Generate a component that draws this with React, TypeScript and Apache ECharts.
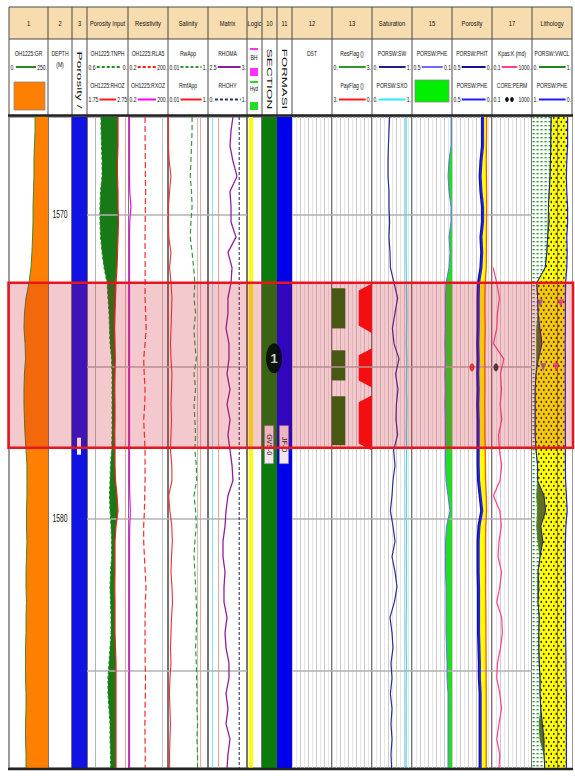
import React, { useEffect, useRef } from "react";
import * as echarts from "echarts";

/* ---------- depth sampling (m) ---------- */
const DEPTH = [
  1566.8, 1567.25, 1567.75, 1568.25, 1568.75, 1569.25, 1569.75, 1570.25, 1570.75, 1571.25,
  1571.75, 1572.25, 1572.75, 1573.25, 1573.75, 1574.25, 1574.75, 1575.25, 1575.75, 1576.25,
  1576.75, 1577.25, 1577.75, 1578.25, 1578.75, 1579.25, 1579.75, 1580.25, 1580.75, 1581.25,
  1581.75, 1582.25, 1582.75, 1583.25, 1583.75, 1584.25, 1584.75, 1585.25, 1585.75, 1586.25,
  1586.75, 1587.25, 1587.75, 1588.2,
];
const DEPTH_LABELS = [1570, 1580];
const DEPTH_GRID = [1570, 1575, 1580, 1585];

/* ---------- logs ---------- */
const GR = [
  167, 167, 163, 160, 160, 157, 154, 154, 151, 147,
  141, 128, 109, 99, 96, 103, 106, 99, 96, 96,
  99, 103, 109, 115, 115, 115, 112, 112, 115, 112,
  109, 109, 112, 109, 109, 106, 106, 106, 109, 109,
  106, 106, 109, 109,
];
const TNPH = [
  0.395, 0.395, 0.388, 0.38, 0.38, 0.402, 0.41, 0.41, 0.402, 0.38,
  0.351, 0.307, 0.293, 0.278, 0.271, 0.263, 0.241, 0.234, 0.234, 0.234,
  0.234, 0.234, 0.241, 0.256, 0.263, 0.271, 0.263, 0.249, 0.241, 0.241,
  0.256, 0.263, 0.256, 0.249, 0.249, 0.263, 0.278, 0.293, 0.293, 0.278,
  0.263, 0.263, 0.256, 0.256,
];
const RHOZ = [
  2.506, 2.506, 2.506, 2.494, 2.494, 2.506, 2.506, 2.518, 2.506, 2.494,
  2.482, 2.457, 2.445, 2.433, 2.425, 2.433, 2.44, 2.433, 2.428, 2.433,
  2.433, 2.428, 2.433, 2.433, 2.445, 2.482, 2.506, 2.457, 2.433, 2.433,
  2.433, 2.428, 2.433, 2.433, 2.433, 2.445, 2.457, 2.457, 2.457, 2.457,
  2.457, 2.457, 2.457, 2.457,
];
const RLA5 = [
  3.8, 3.8, 3.9, 4.0, 4.0, 4.2, 4.0, 3.9, 3.8, 3.8,
  3.9, 3.8, 3.8, 4.2, 4.6, 3.8, 3.0, 3.3, 3.8, 3.6,
  3.0, 3.4, 3.8, 3.8, 3.8, 3.6, 3.4, 3.0, 3.0, 3.4,
  3.9, 4.5, 4.0, 3.8, 3.8, 3.8, 3.9, 4.1, 4.0, 3.8,
  3.7, 3.8, 3.9, 3.9,
];
const RXOZ = [
  0.26, 0.26, 0.26, 0.26, 0.26, 0.27, 0.33, 0.27, 0.26, 0.26,
  0.26, 0.26, 0.26, 0.26, 0.26, 0.26, 0.26, 0.26, 0.26, 0.26,
  0.26, 0.26, 0.26, 0.26, 0.26, 0.27, 0.3, 0.27, 0.26, 0.26,
  0.26, 0.26, 0.26, 0.26, 0.26, 0.26, 0.26, 0.26, 0.26, 0.26,
  0.26, 0.26, 0.26, 0.26,
];
const RW_APP = [
  0.16, 0.16, 0.15, 0.14, 0.13, 0.15, 0.16, 0.14, 0.13, 0.16,
  0.19, 0.22, 0.2, 0.24, 0.2, 0.22, 0.26, 0.2, 0.24, 0.2,
  0.22, 0.24, 0.22, 0.26, 0.27, 0.2, 0.24, 0.26, 0.22, 0.2,
  0.22, 0.24, 0.26, 0.27, 0.26, 0.24, 0.26, 0.27, 0.28, 0.28,
  0.3, 0.28, 0.3, 0.3,
];
const RMF_APP = [
  0.0105, 0.0105, 0.0105, 0.0115, 0.014, 0.012, 0.0105, 0.0105, 0.011, 0.014,
  0.012, 0.0141, 0.0158, 0.015, 0.0141, 0.0133, 0.0141, 0.0158, 0.015, 0.0141,
  0.015, 0.0141, 0.0133, 0.0155, 0.0158, 0.0108, 0.0125, 0.0155, 0.0165, 0.015,
  0.0141, 0.0158, 0.0168, 0.015, 0.0141, 0.0133, 0.0141, 0.0125, 0.0118, 0.0125,
  0.0133, 0.0125, 0.012, 0.012,
];
const RHOMA = [
  2.82, 2.795, 2.782, 2.82, 2.872, 2.782, 2.795, 2.795, 2.859, 2.756,
  2.808, 2.795, 2.756, 2.756, 2.731, 2.769, 2.769, 2.744, 2.782, 2.744,
  2.782, 2.756, 2.782, 2.808, 2.82, 2.756, 2.731, 2.718, 2.692, 2.692,
  2.718, 2.705, 2.705, 2.744, 2.718, 2.731, 2.769, 2.769, 2.731, 2.756,
  2.731, 2.782, 2.756, 2.744,
];
const RHOHY_DEPTH = [1566.8, 1588.2];
const RHOHY = [0.8, 0.8];
const SW = [
  0.44, 0.425, 0.41, 0.4, 0.4, 0.425, 0.425, 0.44, 0.425, 0.45,
  0.46, 0.55, 0.64, 0.575, 0.51, 0.55, 0.675, 0.59, 0.65, 0.61,
  0.6, 0.64, 0.54, 0.575, 0.525, 0.5, 0.46, 0.525, 0.575, 0.5,
  0.575, 0.625, 0.56, 0.45, 0.5, 0.525, 0.475, 0.5, 0.46, 0.5,
  0.475, 0.5, 0.475, 0.49,
];
const SXO = [
  0.85, 0.85, 0.85, 0.85, 0.85, 0.85, 0.85, 0.85, 0.85, 0.85,
  0.855, 0.86, 0.865, 0.87, 0.865, 0.86, 0.87, 0.865, 0.86, 0.87,
  0.865, 0.86, 0.865, 0.86, 0.855, 0.86, 0.855, 0.86, 0.86, 0.855,
  0.86, 0.855, 0.86, 0.855, 0.85, 0.855, 0.86, 0.855, 0.85, 0.855,
  0.85, 0.855, 0.85, 0.85,
];
const PHE = [
  0.11, 0.11, 0.11, 0.13, 0.14, 0.13, 0.11, 0.11, 0.13, 0.12,
  0.13, 0.16, 0.165, 0.165, 0.165, 0.17, 0.165, 0.17, 0.165, 0.17,
  0.165, 0.165, 0.165, 0.165, 0.16, 0.14, 0.12, 0.155, 0.165, 0.165,
  0.165, 0.16, 0.16, 0.16, 0.16, 0.155, 0.15, 0.15, 0.14, 0.14,
  0.14, 0.14, 0.14, 0.14,
];
const PHIT = [
  0.125, 0.125, 0.125, 0.145, 0.155, 0.145, 0.125, 0.125, 0.145, 0.135,
  0.145, 0.175, 0.18, 0.18, 0.18, 0.185, 0.18, 0.185, 0.18, 0.185,
  0.18, 0.18, 0.18, 0.18, 0.175, 0.155, 0.135, 0.17, 0.18, 0.18,
  0.18, 0.175, 0.175, 0.175, 0.175, 0.17, 0.165, 0.165, 0.155, 0.155,
  0.155, 0.155, 0.155, 0.155,
];
const BVW = [
  0.068, 0.068, 0.07, 0.072, 0.07, 0.068, 0.066, 0.068, 0.07, 0.07,
  0.072, 0.085, 0.088, 0.088, 0.085, 0.088, 0.09, 0.088, 0.088, 0.09,
  0.088, 0.088, 0.085, 0.082, 0.08, 0.072, 0.068, 0.078, 0.08, 0.08,
  0.078, 0.08, 0.078, 0.076, 0.076, 0.075, 0.074, 0.074, 0.072, 0.072,
  0.072, 0.072, 0.072, 0.072,
];
const KPAS = [
  null, null, null, null, null, null, null, null, null, null,
  0.13, 0.3, 0.55, 0.35, 0.3, 0.14, 1.5, 0.7, 0.9, 0.65,
  0.95, 0.45, 0.55, 0.93, 0.63, 0.14, 0.6, 0.85, 0.5, 0.4,
  0.9, 0.6, 0.3, 0.93, 1.1, 0.7, 0.35, 0.3, 0.6, 0.9,
  0.5, 0.3, 0.6, 0.5,
];
const VWCL = [
  0.48, 0.47, 0.47, 0.46, 0.45, 0.43, 0.41, 0.4, 0.39, 0.37,
  0.33, 0.12, 0.14, 0.15, 0.12, 0.12, 0.12, 0.1, 0.08, 0.08,
  0.08, 0.08, 0.1, 0.14, 0.14, 0.12, 0.14, 0.12, 0.15, 0.2,
  0.15, 0.14, 0.15, 0.18, 0.17, 0.17, 0.18, 0.2, 0.2, 0.22,
  0.18, 0.2, 0.3, 0.32,
];
const VSILT = [
  0, 0, 0, 0, 0, 0, 0, 0.03, 0, 0,
  0, 0, 0, 0, 0.08, 0.13, 0.04, 0, 0, 0,
  0, 0, 0, 0, 0, 0.18, 0.2, 0.1, 0.12, 0,
  0, 0.03, 0, 0, 0, 0, 0, 0, 0, 0,
  0.08, 0.1, 0, 0,
];

/* ---------- flags, zones, core ---------- */
const RES_FLAG_TOP = [1572.43, 1574.47, 1575.98];
const RES_FLAG_BASE = [1573.75, 1575.46, 1577.59];
const RES_FLAG_VALUE = [1, 1, 1];
const PAY_FLAG_DEPTH = [1566.8, 1572.27, 1572.5, 1573.65, 1573.91, 1574.4, 1574.63, 1575.46, 1575.69, 1575.95, 1576.18, 1577.53, 1577.76, 1588.2];
const PAY_FLAG = [0, 0, 1, 1, 0, 0, 1, 1, 0, 0, 1, 1, 0, 0];
const LOGIC_FLAG_DEPTH = [1566.8, 1588.2];
const ZONE_TOP = 1572.25;
const ZONE_BASE = 1577.67;
const ZONE_NAME = "1";
const ZONE_LABEL_DEPTH = 1574.73;
const SECTION_NAME = "GVS-0";
const FORMATION_NAME = "JF-O";
const CORE_DEPTH = [1575.03];
const CORE_PHI = [0.25];
const CORE_PERM = [0.25];
const SAMPLE_DEPTH = [1572.93, 1572.93, 1575.03, 1575.03];
const SAMPLE_VALUE = [0.2, 0.72, 0.28, 0.6];
const SAMPLE_KIND = ["a", "b", "a", "b"];

/* ---------- layout ---------- */
const EDGES = [9, 48, 72, 87, 128, 168, 208, 247, 262, 277, 292, 332, 372, 412, 452, 492, 532, 572];
const HEAD_TOP = 7;
const TITLE_BOTTOM = 39;
const HEAD_BOTTOM = 115;
const PLOT_TOP = 117;
const PLOT_BOTTOM = 768;
const Y_MIN = DEPTH[0];
const Y_MAX = DEPTH[DEPTH.length - 1];
const FONT = '"Liberation Sans", Arial, Helvetica, sans-serif';
const TRACK_TITLES = ["1", "2", "3", "Porosity Input", "Resistivity", "Salinity", "Matrix", "Logic", "10", "11", "12", "13", "Saturation", "15", "Porosity", "17", "Lithology"];
const GRID_DIVS = [0, 0, 0, 0, 0, 0, 0, 0, 0, 0, 10, 10, 10, 10, 10, 10, 0];

function makePattern(w: number, h: number, draw: (c: CanvasRenderingContext2D) => void) {
  const cv = document.createElement("canvas");
  cv.width = w;
  cv.height = h;
  draw(cv.getContext("2d") as CanvasRenderingContext2D);
  return { image: cv, repeat: "repeat", imageWidth: w, imageHeight: h };
}

function txt(x: number, y: number, text: string, size: number, o: any = {}) {
  return {
    type: "text",
    x,
    y,
    scaleX: o.sx ?? 0.72,
    rotation: o.rot ?? 0,
    z: o.z ?? 10,
    silent: true,
    style: {
      text,
      fill: o.color ?? "#111",
      font: `${o.weight ?? "normal"} ${size}px ${FONT}`,
      textAlign: o.align ?? "center",
      textVerticalAlign: "middle",
    },
  };
}

function tw(s: string, size: number, sx: number) {
  let w = 0;
  for (const ch of s) w += ch === "." || ch === ":" ? 0.278 : /[0-9]/.test(ch) ? 0.556 : 0.6;
  return w * size * sx;
}

function buildOption() {
  const sandFill = makePattern(5, 8, (c) => {
    c.fillStyle = "#ffff00";
    c.fillRect(0, 0, 5, 8);
    c.fillStyle = "#262626";
    c.beginPath();
    c.ellipse(1.3, 2, 0.85, 1.15, 0, 0, Math.PI * 2);
    c.fill();
    c.beginPath();
    c.ellipse(3.8, 6, 0.85, 1.15, 0, 0, Math.PI * 2);
    c.fill();
  });
  const shaleFill = makePattern(4, 4, (c) => {
    c.fillStyle = "#ffffff";
    c.fillRect(0, 0, 4, 4);
    c.fillStyle = "#3c9a3c";
    c.fillRect(0.5, 1, 2.2, 1.4);
  });

  const grid = EDGES.slice(0, -1).map((x, i) => ({
    left: x,
    top: PLOT_TOP,
    width: EDGES[i + 1] - x,
    height: PLOT_BOTTOM - PLOT_TOP,
    show: true,
    borderColor: "#5a5a5a",
    borderWidth: 1.2,
    backgroundColor: "transparent",
  }));
  const yAxis = grid.map((_, i) => ({ type: "value", gridIndex: i, min: Y_MIN, max: Y_MAX, inverse: true, show: false }));
  const xAxis: any[] = [];
  const ax = (g: number, o: any) => {
    xAxis.push({ type: "value", gridIndex: g, show: false, ...o });
    return xAxis.length - 1;
  };
  const frame = GRID_DIVS.map((n, i) =>
    n
      ? ax(i, {
          show: true,
          min: 0,
          max: n,
          interval: 1,
          axisLine: { show: false },
          axisTick: { show: false },
          axisLabel: { show: false },
          splitLine: { show: true, lineStyle: { color: ["#cdcdcd", "#e6e6e6"], width: 1 } },
        })
      : ax(i, { min: 0, max: 1 })
  );
  const aGR = ax(0, { min: 0, max: 250 });
  const aTNPH = ax(3, { min: 0, max: 0.6, inverse: true });
  const aRHOZ = ax(3, { min: 1.75, max: 2.75 });
  const aRES = ax(4, { type: "log", logBase: 10, min: 0.2, max: 200 });
  const aSAL = ax(5, { type: "log", logBase: 10, min: 0.01, max: 1 });
  const aRHOMA = ax(6, { min: 2.5, max: 3 });
  const aRHOHY = ax(6, { min: 0, max: 1 });
  const aRESF = ax(11, { min: 0, max: 3 });
  const aPAYF = ax(11, { min: 0, max: 3, inverse: true });
  const aSAT = ax(12, { min: 0, max: 1 });
  const aPHE15 = ax(13, { min: 0.1, max: 0.5, inverse: true });
  const aPOR = ax(14, { min: 0, max: 0.5, inverse: true });
  const aK = ax(15, { type: "log", logBase: 10, min: 0.1, max: 1000 });
  const aVW = ax(16, { min: 0, max: 1 });
  const aPHEL = ax(16, { min: 0, max: 1, inverse: true });

  const curve = (xi: number, yi: number, vals: any[], depths: number[], color: string, width: number, type: any = "solid", z = 5) => ({
    type: "line",
    xAxisIndex: xi,
    yAxisIndex: yi,
    symbol: "none",
    silent: true,
    z,
    clip: true,
    lineStyle: { color, width, type },
    data: depths.map((d, k) => [vals[k], d]).filter((p) => p[0] != null),
  });

  const val = (a: any, k: number) => (typeof a === "number" ? a : a[k]);
  const band = (xi: number, yi: number, left: any, right: any, depths: number[], fill: any, z = 2) => ({
    type: "custom",
    coordinateSystem: "cartesian2d",
    xAxisIndex: xi,
    yAxisIndex: yi,
    silent: true,
    z,
    clip: true,
    data: [[val(left, 0), depths[0]]],
    renderItem: (_p: any, api: any) => {
      const pts: number[][] = [];
      for (let k = 0; k < depths.length; k++) pts.push(api.coord([val(left, k), depths[k]]));
      for (let k = depths.length - 1; k >= 0; k--) pts.push(api.coord([val(right, k), depths[k]]));
      return { type: "polygon", shape: { points: pts }, style: { fill } };
    },
  });

  const hgrid = (i: number) => ({
    type: "line",
    xAxisIndex: frame[i],
    yAxisIndex: i,
    data: [],
    z: 4,
    silent: true,
    markLine: {
      silent: true,
      animation: false,
      symbol: ["none", "none"],
      label: { show: false },
      lineStyle: { color: "#b2b2b2", width: 1.5, type: "solid" },
      data: DEPTH_GRID.map((d) => ({ yAxis: d })),
    },
  });
  const vlines = (i: number, items: [number, string][]) => ({
    type: "line",
    xAxisIndex: frame[i],
    yAxisIndex: i,
    data: [],
    z: 4,
    silent: true,
    markLine: {
      silent: true,
      animation: false,
      symbol: ["none", "none"],
      label: { show: false },
      data: items.map(([v, c]) => ({ xAxis: v, lineStyle: { color: c, width: 1, type: "solid" } })),
    },
  });

  const sandLeft = VWCL.map((v, k) => v + VSILT[k]);
  const zoneSpan = [Y_MIN, Y_MAX];

  const series: any[] = [
    // 1 : gamma ray
    band(aGR, 0, GR, 250, DEPTH, "#ff8000"),
    curve(aGR, 0, GR, DEPTH, "#3d8a2a", 1),
    // 3 : porosity zone column
    band(frame[2], 2, 0, 1, zoneSpan, "#1212e2"),
    // porosity input
    band(aTNPH, 3, TNPH, 0, DEPTH, "#177a17"),
    band(aRHOZ, 3, RHOZ, 2.75, DEPTH, "#ffffff", 3),
    vlines(3, [[0.2, "#b4b4b4"], [0.93, "#f3a0a0"]]),
    hgrid(3),
    curve(aTNPH, 3, TNPH, DEPTH, "#1d8a1d", 1, [3, 2]),
    curve(aRHOZ, 3, RHOZ, DEPTH, "#ff1a1a", 1.2),
    // resistivity
    vlines(4, [[0.85, "#c4c4c4"]]),
    hgrid(4),
    curve(aRES, 4, RLA5, DEPTH, "#ff2a2a", 1.2, [6, 3]),
    curve(aRES, 4, RXOZ, DEPTH, "#ff00ff", 1.2),
    // salinity
    vlines(5, [[0.72, "#c4c4c4"], [0.8, "#f3a0a0"]]),
    hgrid(5),
    curve(aSAL, 5, RW_APP, DEPTH, "#3a953a", 1.2, [5, 3]),
    curve(aSAL, 5, RMF_APP, DEPTH, "#ff2a2a", 1.1),
    // matrix
    vlines(6, [[0.1, "#7fe6f0"], [0.26, "#f3a0a0"]]),
    hgrid(6),
    curve(aRHOMA, 6, RHOMA, DEPTH, "#8e1f9e", 1.3),
    curve(aRHOHY, 6, RHOHY, RHOHY_DEPTH, "#24306a", 1.1, [3, 2]),
    // logic
    band(frame[7], 7, 0.13, 0.4, LOGIC_FLAG_DEPTH, "#ffff00"),
    // section / formation
    band(frame[8], 8, 0, 1, zoneSpan, "#0b7b0b"),
    band(frame[9], 9, 0, 1, zoneSpan, "#0000ea"),
    {
      type: "scatter",
      xAxisIndex: frame[8],
      yAxisIndex: 8,
      clip: false,
      silent: true,
      z: 120,
      symbol: "circle",
      symbolSize: [16, 30],
      itemStyle: { color: "#000" },
      label: { show: true, position: "inside", formatter: ZONE_NAME, color: "#fff", fontSize: 13, fontWeight: "bold", fontFamily: FONT },
      data: [[0.8, ZONE_LABEL_DEPTH]],
    },
    // DST
    hgrid(10),
    // flags
    hgrid(11),
    {
      type: "custom",
      coordinateSystem: "cartesian2d",
      xAxisIndex: aRESF,
      yAxisIndex: 11,
      silent: true,
      z: 3,
      data: RES_FLAG_TOP.map((t, k) => [0, t, RES_FLAG_VALUE[k], RES_FLAG_BASE[k]]),
      renderItem: (_p: any, api: any) => {
        const a = api.coord([api.value(0), api.value(1)]);
        const b = api.coord([api.value(2), api.value(3)]);
        return { type: "rect", shape: { x: a[0], y: a[1], width: b[0] - a[0], height: b[1] - a[1] }, style: { fill: "#1f6a08" } };
      },
    },
    band(aPAYF, 11, PAY_FLAG, 0, PAY_FLAG_DEPTH, "#ff0a0a", 3),
    // saturation
    hgrid(12),
    curve(aSAT, 12, SW, DEPTH, "#2e2e96", 1.2),
    curve(aSAT, 12, SXO, DEPTH, "#3fdcec", 1.3),
    // effective porosity
    hgrid(13),
    band(aPHE15, 13, PHE, 0.1, DEPTH, "#22dd22", 3),
    curve(aPHE15, 13, PHE, DEPTH, "#6b6bff", 1),
    // porosity
    hgrid(14),
    band(aPOR, 14, PHE, BVW, DEPTH, "#ffff00", 3),
    curve(aPOR, 14, BVW, DEPTH, "#ff5a00", 1.3),
    curve(aPOR, 14, PHIT, DEPTH, "#12129e", 2),
    curve(aPOR, 14, PHE, DEPTH, "#1f1fff", 1.8),
    {
      type: "scatter",
      xAxisIndex: aPOR,
      yAxisIndex: 14,
      silent: true,
      z: 8,
      symbol: "circle",
      symbolSize: [5, 8],
      itemStyle: { color: "#ee1111" },
      data: CORE_DEPTH.map((d, k) => [CORE_PHI[k], d]),
    },
    // permeability
    hgrid(15),
    curve(aK, 15, KPAS, DEPTH, "#ff3f8f", 1.2),
    {
      type: "scatter",
      xAxisIndex: aK,
      yAxisIndex: 15,
      silent: true,
      z: 8,
      symbol: "circle",
      symbolSize: [5, 8],
      itemStyle: { color: "#111" },
      data: CORE_DEPTH.map((d, k) => [CORE_PERM[k], d]),
    },
    // lithology
    band(aVW, 16, sandLeft, 1, DEPTH, sandFill, 2),
    band(aVW, 16, 0, VWCL, DEPTH, shaleFill, 2),
    band(aVW, 16, VWCL, sandLeft, DEPTH, "#5e6d1e", 3),
    band(aPHEL, 16, PHE, 0, DEPTH, "#ffffff", 3),
    vlines(16, [[0.62, "#9a7a20"]]),
    curve(aVW, 16, VWCL, DEPTH, "#2f8f2f", 1),
    curve(aVW, 16, sandLeft, DEPTH, "#1c1c90", 1),
    curve(aPHEL, 16, PHE, DEPTH, "#2020ff", 1.2),
    {
      type: "scatter",
      xAxisIndex: aVW,
      yAxisIndex: 16,
      silent: true,
      z: 8,
      symbol: "triangle",
      symbolRotate: 180,
      symbolSize: [6, 8],
      data: SAMPLE_DEPTH.map((d, k) => ({
        value: [SAMPLE_VALUE[k], d],
        itemStyle: { color: SAMPLE_KIND[k] === "a" ? "#8a4fc0" : "#ff1fc8" },
      })),
    },
  ];

  return { animation: false, backgroundColor: "#ffffff", grid, xAxis, yAxis, series };
}

function buildHeader(): any[] {
  const els: any[] = [];
  const L = EDGES[0];
  const R = EDGES[EDGES.length - 1];
  els.push({ type: "rect", silent: true, z: 1, shape: { x: L, y: HEAD_TOP, width: R - L, height: TITLE_BOTTOM - HEAD_TOP }, style: { fill: "#f6dcae" } });
  els.push({ type: "rect", silent: true, z: 1, shape: { x: L, y: TITLE_BOTTOM, width: R - L, height: HEAD_BOTTOM - TITLE_BOTTOM }, style: { fill: "#ffffff" } });
  EDGES.forEach((x) =>
    els.push({ type: "line", silent: true, z: 3, shape: { x1: x, y1: HEAD_TOP, x2: x, y2: HEAD_BOTTOM }, style: { stroke: "#4a4a4a", lineWidth: 1 } })
  );
  els.push({ type: "line", silent: true, z: 3, shape: { x1: L, y1: HEAD_TOP, x2: R, y2: HEAD_TOP }, style: { stroke: "#4a4a4a", lineWidth: 1 } });
  els.push({ type: "line", silent: true, z: 3, shape: { x1: L, y1: TITLE_BOTTOM, x2: R, y2: TITLE_BOTTOM }, style: { stroke: "#4a4a4a", lineWidth: 1 } });
  els.push({ type: "line", silent: true, z: 3, shape: { x1: L - 1, y1: HEAD_BOTTOM + 0.5, x2: R + 1, y2: HEAD_BOTTOM + 0.5 }, style: { stroke: "#222", lineWidth: 2.5 } });
  els.push({ type: "line", silent: true, z: 30, shape: { x1: L - 1, y1: PLOT_BOTTOM + 1, x2: R + 1, y2: PLOT_BOTTOM + 1 }, style: { stroke: "#222", lineWidth: 2.5 } });

  TRACK_TITLES.forEach((t, i) => els.push(txt((EDGES[i] + EDGES[i + 1]) / 2, 23, t, 8)));

  const LEG_Y = [
    [53, 67],
    [85.5, 99.5],
  ];
  const FS = 7;
  const SX = 0.72;
  const legend = (t: number, row: number, name: string, lo: string, hi: string, color: string, o: any = {}) => {
    const x0 = EDGES[t];
    const x1 = EDGES[t + 1];
    const [yn, yl] = LEG_Y[row];
    els.push(txt((x0 + x1) / 2, yn, name, FS, { sx: SX }));
    els.push(txt(x0 + 1.5, yl, lo, FS, { sx: SX, align: "left" }));
    els.push(txt(x1 - 1, yl, hi, FS, { sx: SX, align: "right" }));
    const a = x0 + 1.5 + tw(lo, FS, SX) + 1.2;
    const b = x1 - 1 - tw(hi, FS, SX) - 1.2;
    if (o.dots) {
      const m = (a + b) / 2;
      els.push({ type: "ellipse", silent: true, z: 5, shape: { cx: m - 2.5, cy: yl, rx: 1.8, ry: 2.4 }, style: { fill: "#111" } });
      els.push({ type: "ellipse", silent: true, z: 5, shape: { cx: m + 2.5, cy: yl, rx: 1.8, ry: 2.4 }, style: { fill: "#111" } });
    } else {
      els.push({ type: "line", silent: true, z: 5, shape: { x1: a, y1: yl, x2: b, y2: yl }, style: { stroke: color, lineWidth: 2, lineDash: o.dash } });
    }
  };
  legend(0, 0, "OH1225:GR", "0.", "250.", "#2a8a2a");
  legend(3, 0, "OH1225:TNPH", "0.6", "0.", "#1f8f1f", { dash: [3, 2] });
  legend(3, 1, "OH1225:RHOZ", "1.75", "2.75", "#ff1a1a");
  legend(4, 0, "OH1225:RLA5", "0.2", "200.", "#ff1a1a", { dash: [3, 2] });
  legend(4, 1, "OH1225:RXOZ", "0.2", "200.", "#ff00ff");
  legend(5, 0, "RwApp", "0.01", "1.", "#2a9a2a", { dash: [3, 2] });
  legend(5, 1, "RmfApp", "0.01", "1.", "#ff1a1a");
  legend(6, 0, "RHOMA", "2.5", "3.", "#8e1f9e");
  legend(6, 1, "RHOHY", "0.", "1.", "#24306a", { dash: [3, 2] });
  legend(11, 0, "ResFlag ()", "0.", "3.", "#2a9a2a");
  legend(11, 1, "PayFlag ()", "3.", "0.", "#ff1a1a");
  legend(12, 0, "PORSW:SW", "0.", "1.", "#20208a");
  legend(12, 1, "PORSW:SXO", "0.", "1.", "#30e8f4");
  legend(13, 0, "PORSW:PHE", "0.5", "0.1", "#6b6bff");
  legend(14, 0, "PORSW:PHIT", "0.5", "0.", "#12128e");
  legend(14, 1, "PORSW:PHE", "0.5", "0.", "#1f1fff");
  legend(15, 0, "Kpas:K (md)", "0.1", "1000.", "#ff3f8f");
  legend(15, 1, "CORE:PERM", "0.1", "1000.", "#111", { dots: true });
  legend(16, 0, "PORSW:VWCL", "0.", "1.", "#1e8a1e");
  legend(16, 1, "PORSW:PHE", "1.", "0.", "#1f1fff");

  // depth column heading
  els.push(txt(60, 53, "DEPTH", FS, { sx: SX }));
  els.push(txt(60, 64, "(M)", FS, { sx: SX }));
  // gamma ray fill swatch
  els.push({ type: "rect", silent: true, z: 5, shape: { x: 14, y: 82, width: 31, height: 28 }, style: { fill: "#ff8000", stroke: "#888", lineWidth: 0.8 } });
  // effective porosity fill swatch
  els.push({ type: "rect", silent: true, z: 5, shape: { x: 415, y: 80, width: 34, height: 22 }, style: { fill: "#00ee00", stroke: "#888", lineWidth: 0.8 } });
  // logic flags
  els.push({ type: "line", silent: true, z: 5, shape: { x1: 250, y1: 49, x2: 258, y2: 49 }, style: { stroke: "#ff33ff", lineWidth: 2 } });
  els.push(txt(254, 58, "BH", 6.5, { sx: 0.8 }));
  els.push({ type: "rect", silent: true, z: 5, shape: { x: 250, y: 68, width: 8, height: 8 }, style: { fill: "#ff33ff" } });
  els.push({ type: "line", silent: true, z: 5, shape: { x1: 250, y1: 82, x2: 258, y2: 82 }, style: { stroke: "#22dd22", lineWidth: 2 } });
  els.push(txt(254, 89, "Hyd", 6.5, { sx: 0.7 }));
  els.push({ type: "rect", silent: true, z: 5, shape: { x: 250, y: 102, width: 8, height: 8 }, style: { fill: "#22dd22" } });
  // vertical headings
  els.push(txt(79.5, 80, "Porosity /", 6.5, { sx: 2.1, rot: -Math.PI / 2 }));
  els.push(txt(269.5, 79, "SECTION", 6.5, { sx: 2.1, rot: -Math.PI / 2 }));
  els.push(txt(284.5, 79, "FORMASI", 6.5, { sx: 2.05, rot: -Math.PI / 2 }));
  // DST
  els.push(txt(312, 53, "DST", FS, { sx: SX }));
  return els;
}

function buildOverlay(py: (d: number) => number): any[] {
  const els: any[] = [];
  const L = EDGES[0];
  const R = EDGES[EDGES.length - 1];
  // depth annotations
  DEPTH_LABELS.forEach((d) => els.push(txt((EDGES[1] + EDGES[2]) / 2, py(d), String(d), 11, { sx: 0.62 })));
  // zone name tags
  const yb = py(ZONE_BASE);
  els.push({ type: "rect", silent: true, z: 40, shape: { x: 264.5, y: yb - 22, width: 9, height: 38 }, style: { fill: "#f6e6ec", stroke: "#8a8aa0", lineWidth: 0.6 } });
  els.push(txt(269, yb - 3, SECTION_NAME, 7, { sx: 1, rot: -Math.PI / 2, z: 41 }));
  els.push({ type: "rect", silent: true, z: 40, shape: { x: 279.5, y: yb - 22, width: 9, height: 38 }, style: { fill: "#f6e6ec", stroke: "#8a8aa0", lineWidth: 0.6 } });
  els.push(txt(284, yb - 3, FORMATION_NAME, 7, { sx: 1, rot: -Math.PI / 2, z: 41 }));
  els.push({ type: "rect", silent: true, z: 40, shape: { x: 77, y: yb - 10, width: 4, height: 17 }, style: { fill: "#ffffff" } });
  // highlighted interval
  const yt = py(ZONE_TOP);
  els.push({
    type: "rect",
    silent: true,
    z: 100,
    shape: { x: L - 0.5, y: yt, width: R - L + 1.5, height: yb - yt },
    style: { fill: "rgba(205,30,45,0.24)", stroke: "#e8141e", lineWidth: 2.5 },
  });
  return els;
}

export default function App() {
  const ref = useRef<HTMLDivElement | null>(null);
  useEffect(() => {
    const chart = echarts.init(ref.current as HTMLDivElement, null, { renderer: "svg" });
    chart.setOption(buildOption() as any);
    const py = (d: number) => chart.convertToPixel({ yAxisIndex: 0 } as any, d) as unknown as number;
    chart.setOption({ graphic: [...buildHeader(), ...buildOverlay(py)] } as any);
    return () => chart.dispose();
  }, []);
  return <div ref={ref} style={{ position: "absolute", left: 0, top: 0, width: 575, height: 776, background: "#fff" }} />;
}
